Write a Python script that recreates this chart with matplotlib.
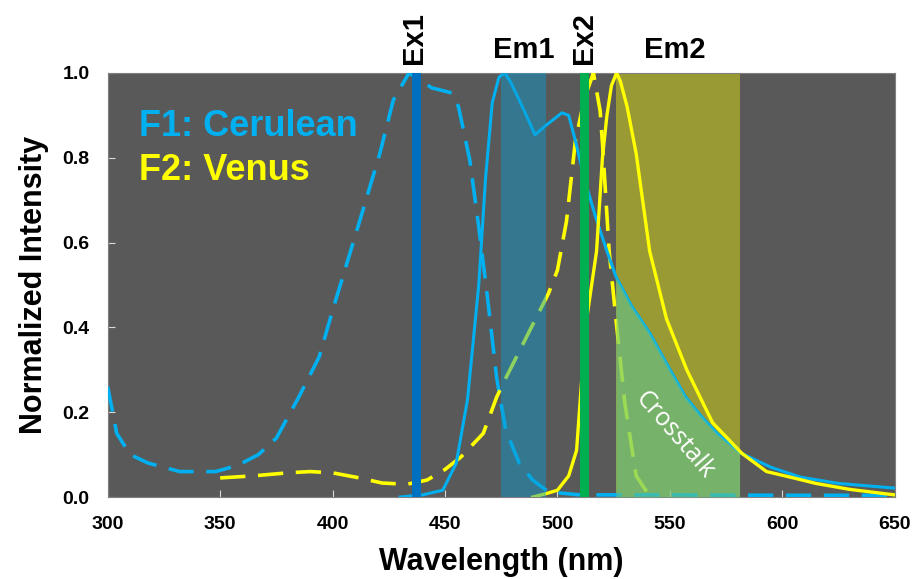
import numpy as np
import matplotlib
matplotlib.use('Agg')
import matplotlib.pyplot as plt
import matplotlib.transforms as mtransforms

plt.rcParams['font.family'] = ['Liberation Sans', 'DejaVu Sans']

# Cerulean excitation (dashed blue)
cer_ex_wl = [300, 304, 310, 318, 332, 348, 358, 367, 375, 385, 394, 400, 412, 421, 427, 434,
             440, 444, 453, 456, 461, 465, 469, 473, 477, 483, 489, 496, 510, 550, 600, 650]
cer_ex = [0.26, 0.15, 0.10, 0.08, 0.06, 0.06, 0.075, 0.10, 0.139, 0.236, 0.33, 0.44, 0.65, 0.81, 0.936, 1.0,
          0.98, 0.965, 0.953, 0.92, 0.795, 0.637, 0.465, 0.28, 0.158, 0.08, 0.04, 0.012, 0.005, 0.005, 0.004, 0.004]

# Cerulean emission (solid blue)
cer_em_wl = [430, 440, 449, 455, 460, 465, 468, 471, 474, 476.5, 479, 483, 487, 490, 495, 502, 505, 508,
             512, 517, 522, 526, 533, 541, 549, 557, 564, 571, 581, 595, 608, 625, 650]
cer_em = [0.0, 0.005, 0.016, 0.08, 0.23, 0.5, 0.75, 0.93, 0.99, 1.0, 0.98, 0.936, 0.89, 0.854, 0.877, 0.906, 0.9, 0.84,
          0.75, 0.66, 0.58, 0.52, 0.45, 0.387, 0.31, 0.236, 0.19, 0.15, 0.105, 0.07, 0.047, 0.032, 0.021]

# Venus excitation (dashed yellow)
ven_ex_wl = [350, 365, 380, 390, 400, 412, 422, 433, 442, 450, 457, 467, 473, 477, 486, 496, 500, 504,
             508, 512, 516, 519, 520, 523, 526, 530, 535, 540]
ven_ex = [0.045, 0.05, 0.057, 0.06, 0.057, 0.045, 0.033, 0.03, 0.04, 0.065, 0.094, 0.15, 0.236, 0.28, 0.375, 0.48, 0.535, 0.65,
          0.84, 0.94, 1.0, 0.91, 0.835, 0.58, 0.42, 0.22, 0.05, 0.01]

# Venus emission (solid yellow)
ven_em_wl = [489, 495, 500, 505, 508.5, 510.7, 513, 517.4, 520, 522, 524, 526.3, 528, 531, 535, 541, 548.5,
             557.5, 569, 582, 593, 605, 615, 630, 650]
ven_em = [0.0, 0.008, 0.016, 0.05, 0.11, 0.27, 0.42, 0.58, 0.8, 0.9, 0.97, 1.0, 0.98, 0.92, 0.81, 0.58, 0.42,
          0.30, 0.175, 0.103, 0.06, 0.045, 0.032, 0.018, 0.005]

ex1 = 437
ex2 = 512
em1 = (475, 495)
em2 = (526, 581)

blue = '#00b0f0'
yellow = '#ffff00'

fig = plt.figure(figsize=(9.13, 5.79), dpi=100)
ax = fig.add_axes([0.118, 0.1416, 0.862, 0.7324])
ax.set_facecolor('#595959')

ax.axvspan(*em2, color='#9a9a35', zorder=1, lw=0)

ax.plot(cer_ex_wl, cer_ex, color=blue, lw=2.6, dashes=(7, 3.5), zorder=3)
ax.plot(ven_ex_wl, ven_ex, color=yellow, lw=2.6, dashes=(7, 3.5), zorder=3)
ax.plot(cer_em_wl, cer_em, color=blue, lw=2.2, zorder=3)

# crosstalk area under cerulean emission inside Em2
wl = np.array(cer_em_wl)
ax.fill_between(wl, 0, cer_em, where=(wl >= em2[0]) & (wl <= em2[1]),
                color='#60c28a', alpha=0.62, lw=0, zorder=4)

ax.plot(ven_em_wl, ven_em, color=yellow, lw=2.4, zorder=5)

ax.axvspan(*em1, color='#0b9cd1', alpha=0.46, zorder=6, lw=0)
ax.axvline(ex1, color='#0070c0', lw=6.5, zorder=7)
ax.axvline(ex2, color='#00b050', lw=6.5, zorder=7)

ax.set_xlim(300, 650)
ax.set_ylim(0, 1.0)
ax.set_xticks(np.arange(300, 651, 50))
ax.set_yticks(np.arange(0, 1.01, 0.2))
ax.set_yticklabels([f'{v:.1f}' for v in np.arange(0, 1.01, 0.2)])
ax.tick_params(direction='in', color='#d9d9d9', length=5, labelsize=14)
ax.tick_params(axis='x', pad=14)
ax.tick_params(axis='y', pad=13)
for lab in ax.get_xticklabels() + ax.get_yticklabels():
    lab.set_fontweight('bold')
for s in ax.spines.values():
    s.set_color('#7f7f7f')

ax.set_xlabel('Wavelength (nm)', fontsize=22, fontweight='bold', labelpad=10)
ax.set_ylabel('Normalized Intensity', fontsize=22, fontweight='bold', labelpad=10)

ax.text(314, 0.873, 'F1: Cerulean', color=blue, fontsize=26, fontweight='bold', va='center')
ax.text(314, 0.771, 'F2: Venus', color=yellow, fontsize=26, fontweight='bold', va='center')

ax.text(552, 0.145, 'Crosstalk', color='white', fontsize=18, rotation=-49,
        ha='center', va='center', family=['Open Sans', 'DejaVu Sans'], zorder=8)

trans = mtransforms.blended_transform_factory(ax.transData, ax.transAxes)
lab_kw = dict(transform=trans, fontsize=21, fontweight='bold', color='black', clip_on=False)
ax.text(ex1 - 1, 1.02, 'Ex1', rotation=90, ha='center', va='bottom', **lab_kw)
ax.text(485, 1.02, 'Em1', ha='center', va='bottom', **lab_kw)
ax.text(ex2, 1.02, 'Ex2', rotation=90, ha='center', va='bottom', **lab_kw)
ax.text(552, 1.02, 'Em2', ha='center', va='bottom', **lab_kw)

fig.savefig('out.png', dpi=100)
